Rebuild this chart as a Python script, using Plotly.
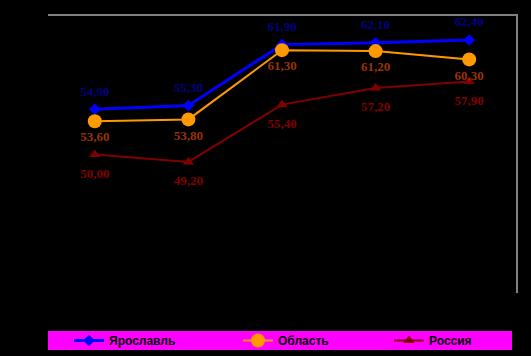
import plotly.graph_objects as go

categories = ["1", "2", "3", "4", "5"]
yaroslavl = [54.90, 55.30, 61.90, 62.10, 62.40]
oblast = [53.60, 53.80, 61.30, 61.20, 60.30]
russia = [50.00, 49.20, 55.40, 57.20, 57.90]
series_names = ["Ярославль", "Область", "Россия"]

def fmt(v):
    return f"{v:.2f}".replace(".", ",")

label_font = dict(family="Liberation Serif, Times New Roman, serif", size=13, weight="bold")

fig = go.Figure()
fig.add_trace(go.Scatter(
    x=categories, y=yaroslavl, name=series_names[0], mode="lines+markers",
    line=dict(color="#0000FF", width=3),
    marker=dict(symbol="diamond", size=9, color="#0000FF"),
    legend="legend",
))
fig.add_trace(go.Scatter(
    x=categories, y=oblast, name=series_names[1], mode="lines+markers",
    line=dict(color="#FF9900", width=2),
    marker=dict(symbol="circle", size=14, color="#FF9900"),
    legend="legend2",
))
fig.add_trace(go.Scatter(
    x=categories, y=russia, name=series_names[2], mode="lines+markers",
    line=dict(color="#800000", width=2),
    marker=dict(symbol="triangle-up", size=10, color="#800000"),
    legend="legend3",
))
# data labels (offset via invisible markers)
fig.add_trace(go.Scatter(
    x=categories, y=yaroslavl, mode="markers+text", showlegend=False, hoverinfo="skip",
    marker=dict(size=15, color="rgba(0,0,0,0)"),
    text=[fmt(v) for v in yaroslavl], textposition="top center",
    textfont=dict(color="#000080", **label_font),
))
fig.add_trace(go.Scatter(
    x=categories, y=oblast, mode="markers+text", showlegend=False, hoverinfo="skip",
    marker=dict(size=15, color="rgba(0,0,0,0)"),
    text=[fmt(v) for v in oblast], textposition="bottom center",
    textfont=dict(color="#993300", **label_font),
))
fig.add_trace(go.Scatter(
    x=categories, y=russia, mode="markers+text", showlegend=False, hoverinfo="skip",
    marker=dict(size=20, color="rgba(0,0,0,0)"),
    text=[fmt(v) for v in russia], textposition="bottom center",
    textfont=dict(color="#800000", **label_font),
))

W, H = 531, 356
legend_common = dict(
    orientation="h", xref="container", yref="container",
    xanchor="left", yanchor="middle", y=(H - 340.5) / H,
    bgcolor="rgba(0,0,0,0)",
    font=dict(family="Liberation Sans, Arial, sans-serif", size=12, color="#000000", weight="bold"),
    itemwidth=30,
)

fig.update_layout(
    width=W, height=H,
    margin=dict(l=48, r=15, t=16, b=63),
    paper_bgcolor="#000000", plot_bgcolor="#000000",
    showlegend=True,
    legend=dict(x=69 / W, **legend_common),
    legend2=dict(x=238 / W, **legend_common),
    legend3=dict(x=389 / W, **legend_common),
    shapes=[dict(type="rect", xref="paper", yref="paper",
                 x0=0, x1=(512 - 48) / 468, y0=-(350 - 293) / 277, y1=-(331 - 293) / 277,
                 fillcolor="#FF00FF", line=dict(width=0), layer="below")],
    xaxis=dict(type="category", range=[-0.5, 4.5], showticklabels=False, showgrid=False,
               zeroline=False, side="top", showline=True, linecolor="#808080", linewidth=2,
               ticks=""),
    yaxis=dict(range=[35, 65], showticklabels=False, showgrid=False, zeroline=False,
               side="right", showline=True, linecolor="#808080", linewidth=2, ticks=""),
)

fig.write_html("out.html", config={"displayModeBar": False},
               post_script="document.body.style.margin='0';document.body.style.background='#000';")
